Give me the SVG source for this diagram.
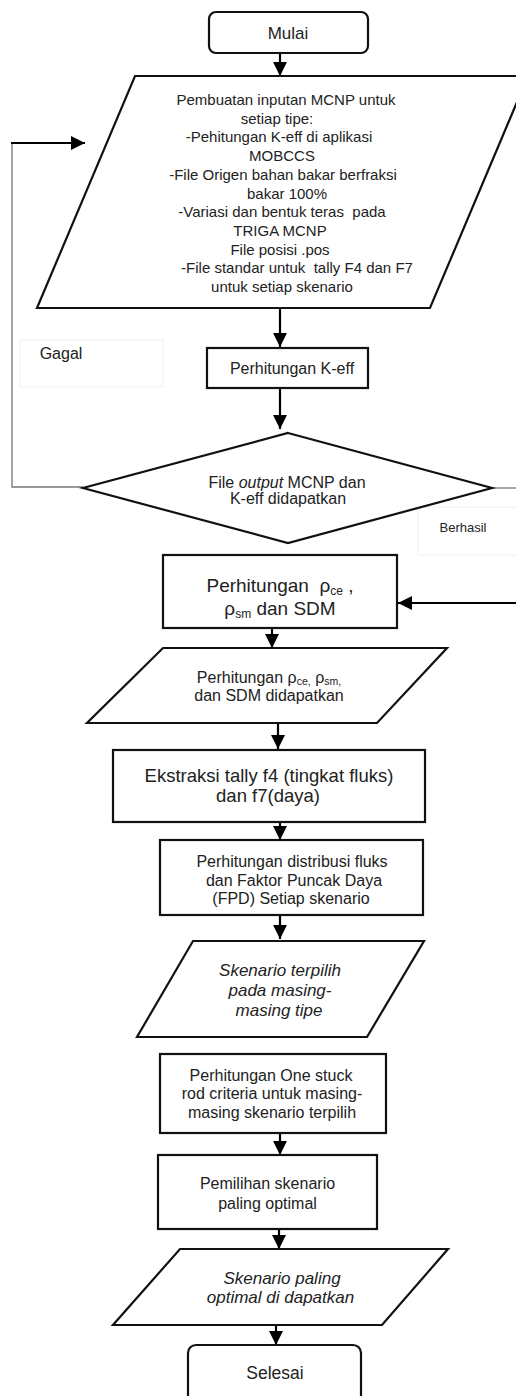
<svg xmlns="http://www.w3.org/2000/svg" width="516" height="1396" viewBox="0 0 516 1396">
<defs>
<marker id="ah" markerUnits="userSpaceOnUse" markerWidth="14" markerHeight="14" refX="14" refY="7" orient="auto">
<path d="M0,0 L14,7 L0,14 z" fill="#000"/>
</marker>
<style>
.shape{fill:#fff;stroke:#111;stroke-width:2.2}
.t{font-family:"Liberation Sans",Arial,sans-serif;fill:#222;text-anchor:middle}
.it{font-style:italic}
.conn{fill:none;stroke:#000;stroke-width:2.2}
.thin{fill:none;stroke:#777;stroke-width:1.3}
.lbl{fill:#fff;stroke:#f0f0f0;stroke-width:1}
</style>
</defs>
<rect width="516" height="1396" fill="#fff"/>

<g id="connectors">
<line class="conn" x1="280" y1="53" x2="280" y2="76" marker-end="url(#ah)"/>
<line class="conn" x1="280" y1="308" x2="280" y2="347" marker-end="url(#ah)"/>
<line class="conn" x1="280" y1="388" x2="280" y2="429" marker-end="url(#ah)"/>
<polyline class="thin" points="83,487 12,487 12,143"/>
<line class="conn" x1="11" y1="143" x2="85" y2="143" marker-end="url(#ah)"/>
<line class="thin" x1="492" y1="488" x2="516" y2="488"/>
<line class="conn" x1="518" y1="603" x2="398" y2="603" marker-end="url(#ah)"/>
<line class="conn" x1="272" y1="628" x2="272" y2="648" marker-end="url(#ah)"/>
<line class="conn" x1="278" y1="723" x2="278" y2="749" marker-end="url(#ah)"/>
<line class="conn" x1="280" y1="822" x2="280" y2="840" marker-end="url(#ah)"/>
<line class="conn" x1="280" y1="915" x2="280" y2="939" marker-end="url(#ah)"/>
<line class="conn" x1="280" y1="1133" x2="280" y2="1155" marker-end="url(#ah)"/>
<line class="conn" x1="279" y1="1229" x2="279" y2="1249" marker-end="url(#ah)"/>
<line class="conn" x1="276" y1="1325" x2="276" y2="1345" marker-end="url(#ah)"/>
</g>

<g id="label-gagal">
<rect class="lbl" x="20" y="340" width="143" height="47"/>
<text class="t" x="61" y="358.5" font-size="16">Gagal</text>
</g>
<g id="label-berhasil">
<rect class="lbl" x="418" y="507" width="100" height="48"/>
<text class="t" x="463" y="531.5" font-size="13">Berhasil</text>
</g>

<g id="mulai">
<rect class="shape" x="209" y="12" width="159" height="41" rx="7"/>
<text class="t" x="288" y="39" font-size="17">Mulai</text>
</g>

<g id="input-mcnp">
<polygon class="shape" points="135,76 528,76 430,308 37,308"/>
<g class="t" font-size="15">
<text x="286" y="105">Pembuatan inputan MCNP untuk</text>
<text x="277" y="123.7">setiap tipe:</text>
<text x="279" y="142.4">-Pehitungan K-eff di aplikasi</text>
<text x="282" y="161.1">MOBCCS</text>
<text x="283" y="179.8">-File Origen bahan bakar berfraksi</text>
<text x="287" y="198.5">bakar 100%</text>
<text x="282" y="217.2" xml:space="preserve">-Variasi dan bentuk teras  pada</text>
<text x="280" y="235.9">TRIGA MCNP</text>
<text x="280" y="254.6">File posisi .pos</text>
<text x="297" y="273.3" xml:space="preserve">-File standar untuk  tally F4 dan F7</text>
<text x="282" y="292">untuk setiap skenario</text>
</g>
</g>

<g id="perhitungan-keff">
<rect class="shape" x="207" y="348" width="161" height="40"/>
<text class="t" x="292" y="374" font-size="16">Perhitungan K-eff</text>
</g>

<g id="decision">
<polygon class="shape" points="288,433 492,488 288,543 83,488"/>
<text class="t" x="287" y="487.5" font-size="16">File <tspan class="it">output</tspan> MCNP dan</text>
<text class="t" x="288" y="504" font-size="16">K-eff didapatkan</text>
</g>

<g id="perhitungan-rho">
<rect class="shape" x="163" y="555" width="234" height="73"/>
<text class="t" x="280" y="591.5" font-size="19" xml:space="preserve">Perhitungan  ρ<tspan font-size="12" dy="3">ce</tspan><tspan dy="-3"> ,</tspan></text>
<text class="t" x="280" y="614.5" font-size="19">ρ<tspan font-size="12" dy="3">sm</tspan><tspan dy="-3"> dan SDM</tspan></text>
</g>

<g id="rho-didapatkan">
<polygon class="shape" points="163,648 447,648 377,723 87,723"/>
<text class="t" x="269" y="682.5" font-size="16">Perhitungan ρ<tspan font-size="10.5" dy="2">ce,</tspan><tspan dy="-2"> ρ</tspan><tspan font-size="10.5" dy="2">sm,</tspan></text>
<text class="t" x="269" y="700.5" font-size="16">dan SDM didapatkan</text>
</g>

<g id="ekstraksi">
<rect class="shape" x="113" y="750" width="312" height="72"/>
<text class="t" x="269" y="781.5" font-size="18.5">Ekstraksi tally f4 (tingkat fluks)</text>
<text class="t" x="268" y="801.5" font-size="18.5">dan f7(daya)</text>
</g>

<g id="distribusi">
<rect class="shape" x="160" y="840" width="263" height="75"/>
<text class="t" x="292" y="867.3" font-size="16">Perhitungan distribusi fluks</text>
<text class="t" x="294" y="885.6" font-size="16">dan Faktor Puncak Daya</text>
<text class="t" x="291" y="903.9" font-size="16">(FPD) Setiap skenario</text>
</g>

<g id="skenario-terpilih">
<polygon class="shape" points="193,941 424,941 367,1037 137,1037"/>
<text class="t it" x="280" y="976" font-size="17">Skenario terpilih</text>
<text class="t it" x="280" y="996" font-size="17">pada masing-</text>
<text class="t it" x="279" y="1016" font-size="17">masing tipe</text>
</g>

<g id="one-stuck">
<rect class="shape" x="160" y="1054" width="226" height="79"/>
<text class="t" x="271" y="1080.6" font-size="16">Perhitungan One stuck</text>
<text class="t" x="272" y="1099.2" font-size="16">rod criteria untuk masing-</text>
<text class="t" x="272" y="1117.8" font-size="16">masing skenario terpilih</text>
</g>

<g id="pemilihan">
<rect class="shape" x="158" y="1155" width="219" height="74"/>
<text class="t" x="267.5" y="1189" font-size="16">Pemilihan skenario</text>
<text class="t" x="267.5" y="1208.5" font-size="16">paling optimal</text>
</g>

<g id="skenario-optimal">
<polygon class="shape" points="180,1249 448,1249 382,1325 113,1325"/>
<text class="t it" x="282" y="1284" font-size="17">Skenario paling</text>
<text class="t it" x="280.5" y="1303" font-size="17">optimal di dapatkan</text>
</g>

<g id="selesai">
<rect class="shape" x="188" y="1345" width="173" height="62" rx="8"/>
<text class="t" x="275" y="1379" font-size="17.5">Selesai</text>
</g>
</svg>
